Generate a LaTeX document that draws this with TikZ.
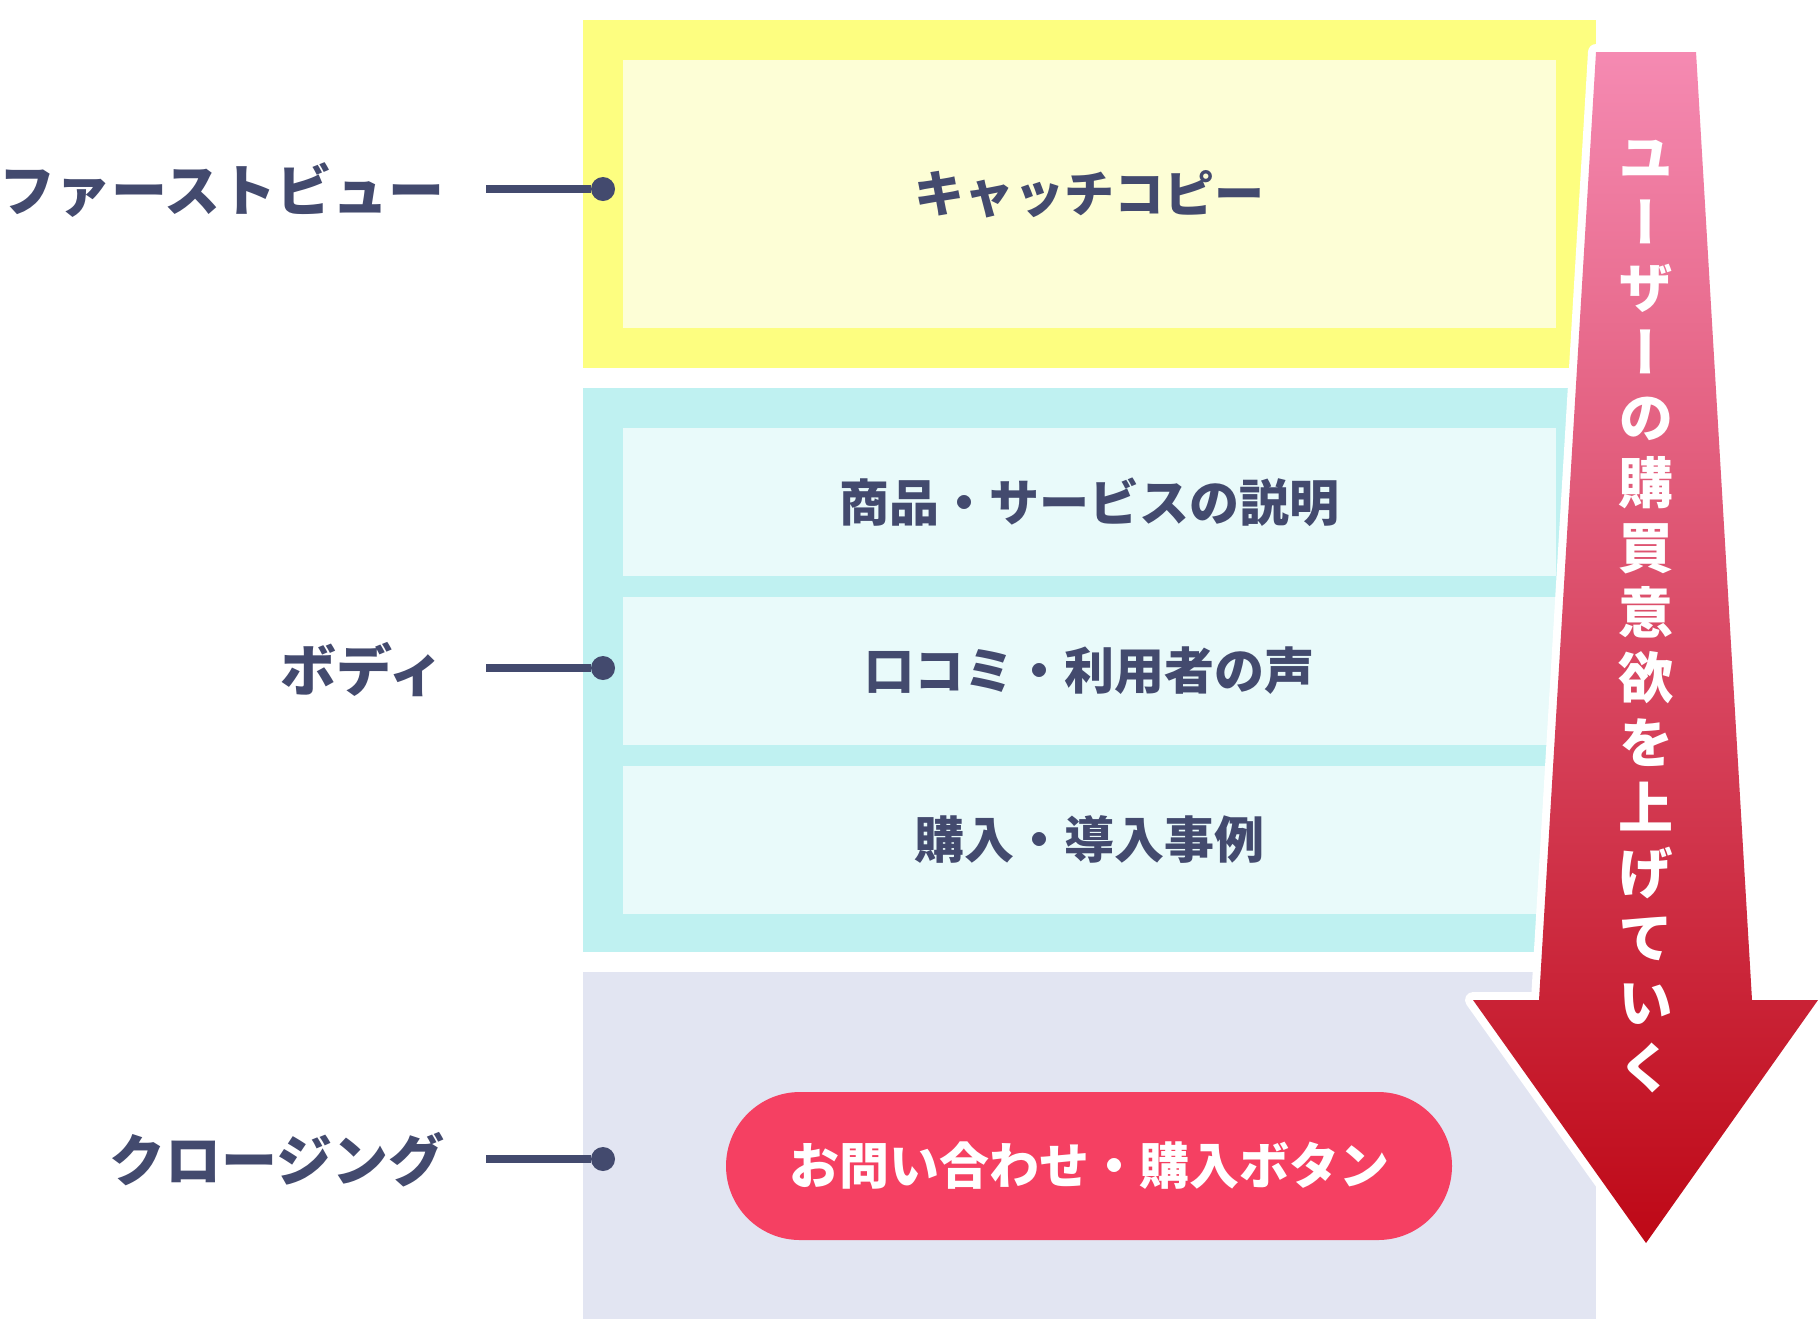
\documentclass[tikz,border=0pt]{standalone}
\usepackage{fontspec}
\setmainfont{Noto Sans CJK JP}
\usetikzlibrary{positioning}

\definecolor{navy}{HTML}{434A6E}
\definecolor{fvouter}{HTML}{FDFE80}
\definecolor{fvinner}{HTML}{FDFED6}
\definecolor{bodyouter}{HTML}{BFF1F1}
\definecolor{bodyinner}{HTML}{E9FAFA}
\definecolor{closeouter}{HTML}{E2E5F2}
\definecolor{ctafill}{HTML}{F54062}
\definecolor{arrowtop}{HTML}{F58AB2}
\definecolor{arrowbot}{HTML}{BE0816}

\tikzset{
  sidelabel/.style = {anchor=east, inner sep=0pt, text=navy,
    font=\fontsize{28}{28}\selectfont\bfseries},
  pin/.style = {circle, fill=navy, inner sep=0pt, minimum size=12pt},
  link/.style = {draw=navy, line width=4pt},
  panel/.style = {inner sep=0pt, minimum width=466.5pt, text=navy,
    font=\fontsize{25}{25}\selectfont\bfseries},
  cta/.style = {rectangle, rounded corners=37pt, fill=ctafill, inner sep=0pt,
    minimum width=363pt, minimum height=74pt, text=white,
    font=\fontsize{25}{25}\selectfont\bfseries},
  flowtext/.style = {align=center, inner sep=0pt, text=white,
    font=\fontsize{27.5}{32.5}\selectfont\bfseries\addfontfeatures{RawFeature=+vert}}
}

\begin{document}
\begin{tikzpicture}[x=0.5pt, y=-0.5pt]
\useasboundingbox (0,0) rectangle (1818,1340);
\fill[white] (0,0) rectangle (1818,1340);

% sections
\fill[fvouter] (583,20) rectangle (1596,368);
\fill[bodyouter] (583,388) rectangle (1596,952);
\fill[closeouter] (583,972) rectangle (1596,1319);

\node[panel, fill=fvinner, minimum height=134pt] (copy) at (1089.5,194) {キャッチコピー};
\node[panel, fill=bodyinner, minimum height=74pt] (svc) at (1089.5,502) {商品・サービスの説明};
\node[panel, fill=bodyinner, minimum height=74pt, below=10pt of svc] (voice) {口コミ・利用者の声};
\node[panel, fill=bodyinner, minimum height=74pt, below=10pt of voice] (case) {購入・導入事例};
\node[cta] (button) at (1089,1166) {お問い合わせ・購入ボタン};

% arrow
\draw[white, line width=8pt, line join=round] (1596,52) -- (1696,52) -- (1752,1000) -- (1818,1000)
  -- (1646,1243) -- (1473,1000) -- (1539,1000) -- cycle;
\shade[top color=arrowtop, bottom color=arrowbot] (1596,52) -- (1696,52) -- (1752,1000) -- (1818,1000)
  -- (1646,1243) -- (1473,1000) -- (1539,1000) -- cycle;
\node[flowtext] (flow) at (1646,617) {ユ\\ー\\ザ\\ー\\の\\購\\買\\意\\欲\\を\\上\\げ\\て\\い\\く};

% labels
\node[sidelabel] (fv) at (445,190) {ファーストビュー};
\node[sidelabel] (body) at (445,670) {ボディ};
\node[sidelabel] (close) at (445,1160) {クロージング};

\node[pin] (fvpin) at (603,189) {};
\node[pin] (bodypin) at (603,668) {};
\node[pin] (closepin) at (603,1159) {};
\coordinate (fvend) at (486,189);
\coordinate (bodyend) at (486,668);
\coordinate (closeend) at (486,1159);

\draw[link] (fvend) -- (fvpin);
\draw[link] (bodyend) -- (bodypin);
\draw[link] (closeend) -- (closepin);
\end{tikzpicture}
\end{document}
